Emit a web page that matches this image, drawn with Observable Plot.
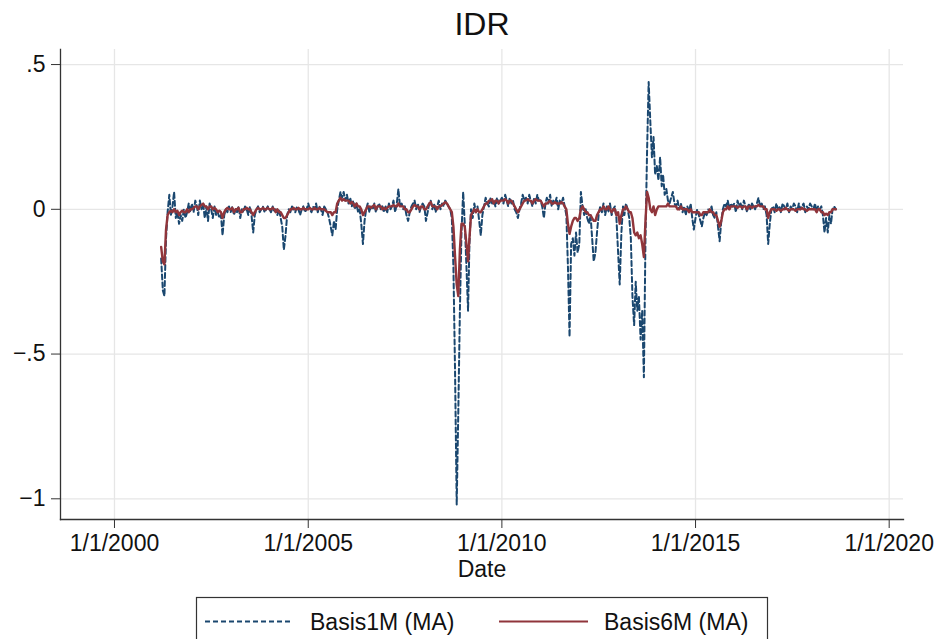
<!DOCTYPE html>
<html>
<head>
<meta charset="utf-8">
<script src="https://cdn.jsdelivr.net/npm/d3@7"></script>
<script src="https://cdn.jsdelivr.net/npm/@observablehq/plot@0.6"></script>
<style>
  html, body { margin: 0; padding: 0; background: #fff; }
  #wrap { position: relative; width: 936px; height: 639px; overflow: hidden;
          font-family: "Liberation Sans", Arial, Helvetica, sans-serif; }
  #chart { position: absolute; left: 0; top: 0; }
  #overlay { position: absolute; left: 0; top: 0; pointer-events: none; }
</style>
</head>
<body>
<div id="wrap">
  <div id="chart"></div>
  <svg id="overlay" width="936" height="639"></svg>
</div>
<script>
// Semi-monthly observations (1st and 16th of each month), first one on 16 Mar 2001
const firstYear = 2001, firstMonth = 2; // March (0-based)

// Basis1M (MA): cross-currency basis, 1-month tenor
const basis1M = [
  // 2001 (from 16 Mar)
  -0.17, -0.28, -0.30, -0.10, -0.01, 0.05, -0.02, 0.01, 0.06, -0.03, -0.01, -0.05, -0.02, -0.04, 0.00, -0.03, -0.01, 0.02, -0.01,
  // 2002
  0.02, -0.01, 0.03, 0.01, -0.02, 0.03, 0.00, 0.02, -0.03, 0.01, -0.04, 0.02, 0.00, -0.03, 0.01, -0.02, -0.01, -0.03, -0.02, -0.09, -0.02, 0.00, -0.01, 0.01,
  // 2003
  -0.01, 0.01, -0.02, 0.00, -0.01, 0.01, -0.03, 0.00, -0.01, 0.01, 0.00, -0.02, 0.01, -0.02, -0.08, -0.02, 0.00, 0.01, -0.01, 0.00, 0.01, -0.01, 0.00, 0.01,
  // 2004
  0.00, -0.01, 0.01, -0.01, 0.00, -0.02, 0.00, -0.03, -0.06, -0.14, -0.09, -0.02, 0.00, -0.01, 0.01, 0.00, -0.01, 0.01, 0.00, -0.02, 0.00, 0.01, -0.01, 0.00,
  // 2005
  0.02, 0.00, -0.01, 0.01, 0.00, 0.02, -0.01, 0.01, 0.00, -0.02, 0.01, 0.00, -0.01, -0.03, -0.06, -0.09, -0.04, -0.07, 0.00, 0.03, 0.06, 0.04, 0.06, 0.03,
  // 2006
  0.05, 0.02, 0.04, 0.01, 0.03, 0.00, 0.02, -0.01, 0.00, -0.05, -0.12, -0.04, 0.00, 0.02, -0.01, 0.01, 0.00, 0.02, -0.01, 0.01, 0.02, 0.00, 0.01, -0.01,
  // 2007
  0.01, -0.01, 0.02, 0.00, 0.01, 0.03, -0.01, 0.02, 0.07, 0.01, 0.02, 0.00, 0.01, -0.02, -0.04, -0.01, 0.01, 0.02, 0.03, 0.00, 0.02, -0.01, 0.01, 0.02,
  // 2008
  0.01, -0.04, -0.01, 0.02, 0.03, 0.00, 0.02, -0.01, 0.01, 0.03, 0.00, 0.02, 0.01, 0.03, 0.02, 0.01, 0.00, -0.03, -0.20, -0.55, -1.02, -0.70, -0.35, -0.08,
  // 2009
  0.06, -0.05, -0.20, -0.35, -0.12, 0.00, -0.03, 0.02, -0.01, 0.01, -0.04, -0.09, -0.02, 0.01, 0.04, 0.02, 0.01, 0.04, 0.02, 0.03, 0.01, 0.04, 0.02, 0.03,
  // 2010
  0.04, 0.02, 0.05, 0.03, 0.01, 0.04, 0.02, 0.03, 0.00, -0.01, -0.03, 0.00, 0.02, 0.05, 0.03, 0.04, 0.02, 0.05, 0.03, 0.01, 0.04, 0.02, 0.05, 0.03,
  // 2011
  0.03, 0.01, -0.03, 0.02, 0.04, 0.02, 0.05, 0.01, 0.03, 0.02, 0.04, 0.00, 0.03, 0.02, 0.04, 0.01, -0.02, -0.20, -0.44, -0.12, -0.10, -0.16, -0.08, -0.15,
  // 2012
  -0.12, 0.06, 0.01, -0.02, 0.00, -0.03, -0.05, -0.02, -0.10, -0.18, -0.15, -0.08, -0.02, 0.01, -0.01, 0.02, -0.02, 0.01, -0.01, 0.02, -0.02, 0.00, 0.01, -0.03,
  // 2013
  -0.15, -0.26, -0.08, 0.01, -0.02, 0.02, 0.00, -0.03, -0.10, -0.30, -0.40, -0.25, -0.35, -0.30, -0.45, -0.35, -0.58, -0.10, 0.20, 0.44, 0.30, 0.18, 0.25, 0.12,
  // 2014
  0.15, 0.10, 0.18, 0.08, 0.12, 0.05, 0.07, 0.03, 0.02, 0.04, 0.06, 0.02, 0.01, 0.03, 0.00, 0.02, -0.01, 0.01, -0.02, 0.01, -0.01, 0.02, -0.03, -0.07,
  // 2015
  -0.03, 0.00, -0.02, -0.04, -0.06, -0.03, -0.01, -0.02, 0.00, -0.01, 0.01, -0.02, -0.03, -0.01, -0.06, -0.11, -0.04, 0.00, 0.02, 0.01, 0.03, 0.00, 0.02, 0.01,
  // 2016
  0.02, -0.01, 0.03, 0.01, 0.02, 0.00, 0.03, 0.01, -0.01, 0.02, 0.00, 0.02, 0.01, 0.00, 0.02, 0.04, 0.01, 0.02, 0.00, 0.01, -0.02, -0.12, -0.05, 0.00,
  // 2017
  0.01, -0.01, 0.02, 0.00, 0.01, -0.01, 0.02, 0.01, 0.00, 0.02, -0.01, 0.01, 0.00, 0.02, 0.01, -0.01, 0.02, 0.00, 0.01, 0.02, -0.01, 0.01, 0.00, 0.02,
  // 2018 (to 16 Aug)
  0.01, 0.00, 0.02, -0.01, 0.01, 0.00, 0.01, -0.02, -0.08, -0.03, -0.08, -0.02, -0.05, 0.00, 0.01, 0.00
];

// Basis6M (MA): cross-currency basis, 6-month tenor
const basis6M = [
  // 2001 (from 16 Mar)
  -0.13, -0.18, -0.19, -0.07, -0.02, -0.01, -0.005, -0.01, 0.00, -0.01, -0.005, -0.02, -0.01, -0.005, -0.01, -0.01, 0.00, -0.01, 0.00,
  // 2002
  0.00, 0.005, 0.01, 0.01, 0.00, 0.01, 0.015, 0.02, 0.01, 0.01, 0.00, 0.01, 0.01, 0.00, 0.005, 0.00, -0.01, -0.005, -0.01, -0.03, -0.01, 0.00, 0.005, 0.00,
  // 2003
  0.00, 0.005, -0.01, 0.00, 0.00, 0.005, -0.01, -0.01, 0.00, 0.00, 0.005, 0.00, 0.00, -0.01, -0.02, -0.01, 0.00, 0.005, 0.00, 0.00, 0.005, 0.00, 0.00, 0.005,
  // 2004
  0.00, 0.00, 0.005, 0.00, -0.01, 0.00, -0.01, -0.01, -0.02, -0.03, -0.03, -0.02, -0.01, 0.00, 0.00, 0.005, 0.00, 0.00, 0.005, 0.00, 0.00, 0.005, 0.00, 0.00,
  // 2005
  0.00, 0.005, 0.00, 0.00, 0.005, 0.00, 0.00, 0.005, 0.00, 0.00, 0.00, -0.005, -0.01, -0.01, -0.01, -0.02, -0.01, -0.01, 0.02, 0.03, 0.04, 0.03, 0.035, 0.03,
  // 2006
  0.03, 0.03, 0.02, 0.025, 0.02, 0.01, 0.02, 0.01, 0.01, 0.00, -0.02, -0.01, 0.00, 0.01, 0.01, 0.005, 0.01, 0.015, 0.00, 0.01, 0.01, 0.01, 0.00, 0.005,
  // 2007
  0.00, 0.005, 0.01, 0.01, 0.01, 0.015, 0.01, 0.01, 0.02, 0.01, 0.01, 0.01, 0.00, 0.00, -0.01, -0.01, 0.00, 0.01, 0.015, 0.01, 0.01, 0.00, 0.01, 0.01,
  // 2008
  0.00, 0.00, 0.01, 0.02, 0.025, 0.01, 0.01, 0.01, 0.00, 0.01, 0.01, 0.015, 0.02, 0.025, 0.02, 0.01, 0.00, -0.01, -0.06, -0.16, -0.26, -0.30, -0.14, -0.05,
  // 2009
  -0.05, -0.06, -0.12, -0.18, -0.10, -0.02, -0.01, 0.00, -0.01, 0.00, -0.01, -0.01, 0.00, 0.01, 0.02, 0.02, 0.03, 0.03, 0.035, 0.02, 0.03, 0.03, 0.02, 0.03,
  // 2010
  0.03, 0.03, 0.035, 0.03, 0.02, 0.03, 0.03, 0.02, 0.01, 0.00, -0.01, 0.00, 0.01, 0.02, 0.03, 0.03, 0.035, 0.03, 0.03, 0.02, 0.03, 0.035, 0.03, 0.03,
  // 2011
  0.03, 0.02, 0.01, 0.02, 0.02, 0.025, 0.03, 0.02, 0.02, 0.025, 0.02, 0.02, 0.02, 0.025, 0.02, 0.01, 0.00, -0.05, -0.085, -0.06, -0.04, -0.03, -0.03, -0.04,
  // 2012
  -0.03, 0.00, 0.01, 0.00, -0.01, -0.01, -0.02, -0.02, -0.03, -0.04, -0.04, -0.02, -0.01, 0.00, 0.00, 0.01, 0.00, 0.00, 0.01, 0.00, -0.01, 0.00, 0.00, -0.02,
  // 2013
  -0.01, -0.05, -0.02, 0.00, 0.00, 0.01, 0.00, -0.01, -0.01, -0.03, -0.08, -0.09, -0.08, -0.10, -0.09, -0.12, -0.165, -0.04, 0.06, 0.04, 0.00, -0.01, 0.01, -0.02,
  // 2014
  0.00, 0.01, 0.01, 0.01, 0.01, 0.01, 0.01, 0.02, 0.01, 0.01, 0.01, 0.01, 0.01, 0.00, 0.00, 0.01, 0.00, 0.00, 0.00, 0.00, -0.01, 0.00, -0.01, -0.01,
  // 2015
  -0.01, -0.01, -0.01, -0.02, -0.02, -0.01, -0.01, -0.01, -0.01, 0.00, -0.01, -0.01, -0.02, -0.02, -0.04, -0.06, -0.04, -0.01, 0.00, 0.00, 0.01, 0.00, 0.01, 0.01,
  // 2016
  0.01, 0.01, 0.005, 0.01, 0.01, 0.005, 0.01, 0.01, 0.00, 0.01, 0.01, 0.005, 0.01, 0.01, 0.01, 0.015, 0.01, 0.01, 0.01, 0.00, 0.00, -0.03, -0.01, 0.00,
  // 2017
  0.00, 0.00, -0.005, 0.00, 0.00, -0.005, 0.00, 0.00, 0.005, 0.00, -0.005, 0.00, 0.00, 0.00, -0.005, 0.00, 0.00, 0.00, 0.005, 0.00, 0.00, -0.005, 0.00, 0.00,
  // 2018 (to 16 Aug)
  0.00, 0.00, 0.00, -0.01, 0.00, 0.00, -0.01, -0.01, -0.02, -0.015, -0.02, -0.01, -0.01, 0.00, 0.00, 0.00
];

// Axis ticks
const xTickYears = [2000, 2005, 2010, 2015, 2020];
const yTicks = [-1, -0.5, 0, 0.5];

// Observation dates: index 0 = 16th of the first month, then 1st / 16th alternating
function obsDate(i) {
  const m = firstMonth + Math.ceil(i / 2);
  const d = i % 2 === 0 ? 16 : 1;
  return new Date(Date.UTC(firstYear, m, d));
}

const rows = basis1M.map((v, i) => ({date: obsDate(i), b1: v, b6: basis6M[i]}));
const xTicks = xTickYears.map(y => new Date(Date.UTC(y, 0, 1)));

const navy = "#1a476f";
const maroon = "#90353b";
const gridColor = "#e6e6e6";
const axisColor = "#333";

const fmtY = d => d === 0 ? "0" : String(d).replace("0.", ".").replace("-", "\u2212");

const chart = Plot.plot({
  width: 936,
  height: 600,
  marginLeft: 60,
  marginRight: 33,
  marginTop: 49,
  marginBottom: 81,
  style: {
    fontFamily: '"Liberation Sans", Arial, Helvetica, sans-serif',
    fontSize: "23px",
    background: "transparent",
    color: "#111",
    overflow: "visible"
  },
  x: {type: "utc", domain: [new Date(Date.UTC(1998, 7, 10)), new Date(Date.UTC(2020, 4, 15))], label: null},
  y: {domain: [-1.0715, 0.552], label: null},
  marks: [
    Plot.gridX(xTicks, {stroke: gridColor, strokeOpacity: 1, strokeWidth: 1.3}),
    Plot.gridY(yTicks, {stroke: gridColor, strokeOpacity: 1, strokeWidth: 1.3}),
    Plot.lineY(rows, {x: "date", y: "b1", stroke: navy, strokeWidth: 2, strokeDasharray: "5,3"}),
    Plot.lineY(rows, {x: "date", y: "b6", stroke: maroon, strokeWidth: 2.4}),
    Plot.frame({anchor: "left", stroke: axisColor, strokeWidth: 1.3}),
    Plot.frame({anchor: "bottom", stroke: axisColor, strokeWidth: 1.3}),
    Plot.axisX(xTicks, {tickSize: 9, tickPadding: 6, tickFormat: d => `1/1/${d.getUTCFullYear()}`, stroke: axisColor, fill: "#111", label: null}),
    Plot.axisY(yTicks, {tickSize: 9, tickPadding: 6, tickFormat: fmtY, stroke: axisColor, fill: "#111", label: null})
  ]
});
document.getElementById("chart").appendChild(chart);

// Title, x-axis title and legend
const ov = d3.select("#overlay");
const font = '"Liberation Sans", Arial, Helvetica, sans-serif';
ov.append("text").attr("x", 482).attr("y", 35).attr("text-anchor", "middle")
  .attr("font-family", font).attr("font-size", 32).attr("fill", "#111").text("IDR");
ov.append("text").attr("x", 482).attr("y", 577).attr("text-anchor", "middle")
  .attr("font-family", font).attr("font-size", 23).attr("fill", "#111").text("Date");

const lg = ov.append("g");
lg.append("rect").attr("x", 196.5).attr("y", 597.5).attr("width", 571).attr("height", 60)
  .attr("fill", "#fff").attr("stroke", axisColor).attr("stroke-width", 1.2);
const items = [
  {label: "Basis1M (MA)", color: navy, dash: "5,3", w: 2, x0: 205, x1: 291, tx: 310},
  {label: "Basis6M (MA)", color: maroon, dash: null, w: 2.2, x0: 499, x1: 588, tx: 604}
];
for (const it of items) {
  const ln = lg.append("line").attr("x1", it.x0).attr("x2", it.x1).attr("y1", 621.5).attr("y2", 621.5)
    .attr("stroke", it.color).attr("stroke-width", it.w);
  if (it.dash) ln.attr("stroke-dasharray", it.dash);
  lg.append("text").attr("x", it.tx).attr("y", 629.5).attr("font-family", font)
    .attr("font-size", 23).attr("fill", "#111").text(it.label);
}
</script>
</body>
</html>
